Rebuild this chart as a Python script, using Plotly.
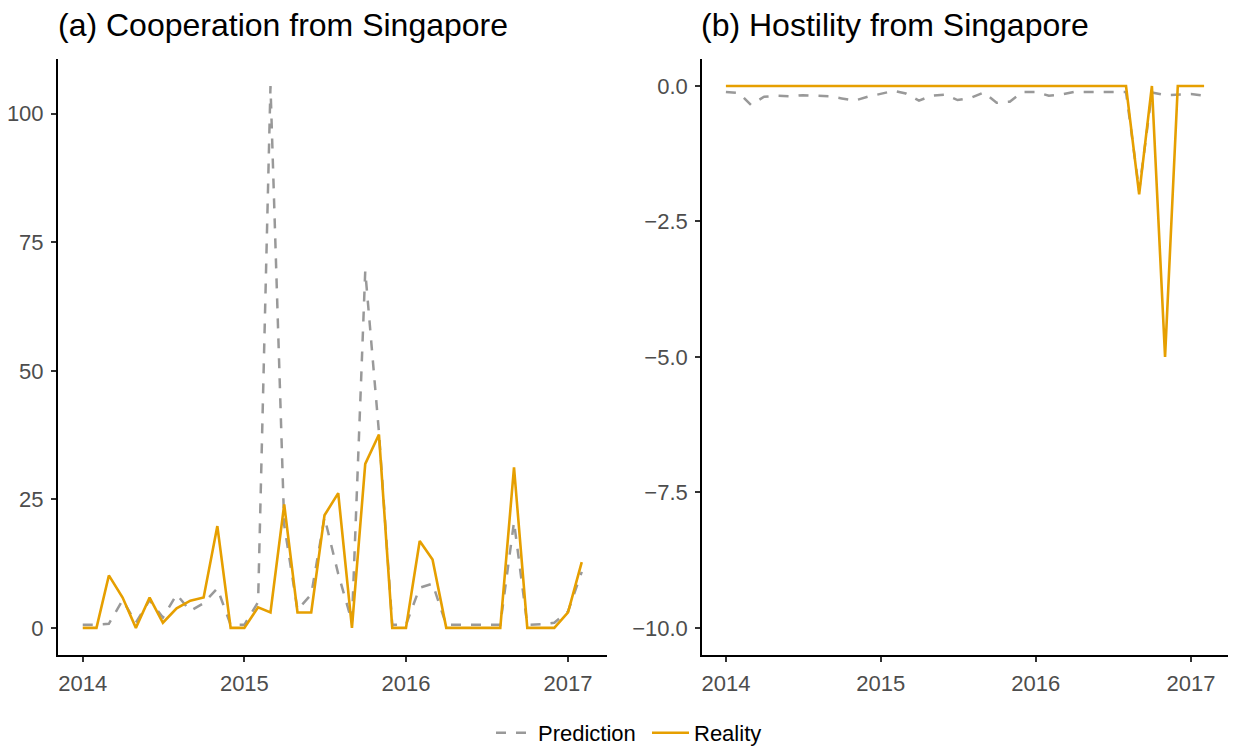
import pandas as pd
import plotly.graph_objects as go

# Monthly observations, Jan 2014 - Feb 2017
months = pd.date_range("2014-01-01", "2017-02-01", freq="MS")

coop_prediction = [
    0.6, 0.6, 0.8, 5.4, 1.0, 5.4, 2.0, 6.5, 3.3, 4.8, 7.7, 0.6,
    0.6, 5.0, 105.4, 20.0, 3.5, 6.5, 21.5, 10.5, 1.2, 69.4, 38.0, 0.6,
    0.6, 7.8, 8.6, 0.6, 0.6, 0.6, 0.6, 0.6, 20.6, 0.6, 0.7, 1.0,
    3.2, 10.9,
]
coop_reality = [
    0, 0, 10.2, 5.9, 0, 5.9, 1.0, 3.8, 5.3, 5.9, 19.8, 0,
    0, 4.0, 3.0, 24.0, 3.0, 3.0, 21.9, 26.2, 0, 31.9, 37.6, 0,
    0, 16.9, 13.3, 0, 0, 0, 0, 0, 31.2, 0, 0, 0,
    3.0, 12.8,
]
host_prediction = [
    -0.11, -0.13, -0.35, -0.20, -0.18, -0.19, -0.17, -0.18, -0.19, -0.23, -0.27, -0.20,
    -0.15, -0.09, -0.14, -0.27, -0.18, -0.16, -0.26, -0.22, -0.12, -0.31, -0.29, -0.11,
    -0.11, -0.18, -0.16, -0.11, -0.11, -0.11, -0.11, -0.11, -1.93, -0.12, -0.17, -0.16,
    -0.15, -0.18,
]
host_reality = [
    0, 0, 0, 0, 0, 0, 0, 0, 0, 0, 0, 0,
    0, 0, 0, 0, 0, 0, 0, 0, 0, 0, 0, 0,
    0, 0, 0, 0, 0, 0, 0, 0, -2.0, 0, -5.0, 0,
    0, 0,
]

coop_ticks = [0, 25, 50, 75, 100]
host_ticks = [0, -2.5, -5, -7.5, -10]
host_ticktext = ["0.0", "\u22122.5", "\u22125.0", "\u22127.5", "\u221210.0"]
year_ticks = ["2014-01-01", "2015-01-01", "2016-01-01", "2017-01-01"]
year_labels = ["2014", "2015", "2016", "2017"]

GREY = "#999999"
ORANGE = "#E69F00"
FONT = "Liberation Sans, Arial, sans-serif"
W, H = 1233, 754

# 5% padding on each side, like a default continuous scale expansion
span = months[-1] - months[0]
x_range = [months[0] - 0.05 * span, months[-1] + 0.05 * span]

def pad(lo, hi):
    d = hi - lo
    return [lo - 0.05 * d, hi + 0.05 * d]

coop_range = pad(0, max(max(coop_prediction), max(coop_reality)))
host_range = pad(-10, 0)

fig = go.Figure()

for xa, ya, pred, real, show in [
    ("x", "y", coop_prediction, coop_reality, True),
    ("x2", "y2", host_prediction, host_reality, False),
]:
    fig.add_trace(go.Scatter(
        x=months, y=pred, mode="lines", name="Prediction",
        line=dict(color=GREY, width=2.5, dash="10px,10px"),
        xaxis=xa, yaxis=ya, showlegend=show, legendgroup="p",
    ))
    fig.add_trace(go.Scatter(
        x=months, y=real, mode="lines", name="Reality",
        line=dict(color=ORANGE, width=2.6),
        xaxis=xa, yaxis=ya, showlegend=show, legendgroup="r",
    ))

top, bottom = 59.5, 662
y_dom = [1 - bottom / H, 1 - top / H]
left_dom = [57.8 / W, 606.7 / W]
right_dom = [702 / W, 1228 / W]

axis_common = dict(
    showline=True, linecolor="black", linewidth=1.6,
    ticks="outside", ticklen=5, tickwidth=1.6, tickcolor="#333333",
    tickfont=dict(family=FONT, size=22, color="#4D4D4D"),
    showgrid=False, zeroline=False,
)

fig.update_layout(
    width=W, height=H,
    margin=dict(l=0, r=0, t=0, b=0),
    paper_bgcolor="white", plot_bgcolor="white",
    font=dict(family=FONT),
    xaxis=dict(domain=left_dom, anchor="y", type="date", range=x_range,
               tickvals=year_ticks, ticktext=year_labels, ticklabelstandoff=3,
               **axis_common),
    yaxis=dict(domain=y_dom, anchor="x", range=coop_range,
               tickvals=coop_ticks, ticklabelstandoff=3, **axis_common),
    xaxis2=dict(domain=right_dom, anchor="y2", type="date", range=x_range,
                tickvals=year_ticks, ticktext=year_labels, ticklabelstandoff=3,
                **axis_common),
    yaxis2=dict(domain=y_dom, anchor="x2", range=host_range,
                tickvals=host_ticks, ticktext=host_ticktext, ticklabelstandoff=3,
                **axis_common),
    legend=dict(orientation="h", x=491 / W, xanchor="left", y=13 / H, yanchor="middle",
                font=dict(family=FONT, size=22, color="black"),
                itemwidth=37, entrywidth=104, bgcolor="rgba(0,0,0,0)"),
    annotations=[
        dict(text="(a) Cooperation from Singapore", x=(left_dom[0] * W - 2) / W, y=1 - 25 / H,
             xref="paper", yref="paper", xanchor="left", yanchor="middle",
             showarrow=False, font=dict(family=FONT, size=32, color="black")),
        dict(text="(b) Hostility from Singapore", x=(right_dom[0] * W - 3) / W, y=1 - 25 / H,
             xref="paper", yref="paper", xanchor="left", yanchor="middle",
             showarrow=False, font=dict(family=FONT, size=32, color="black")),
    ],
)

fig.write_html("out.html")
